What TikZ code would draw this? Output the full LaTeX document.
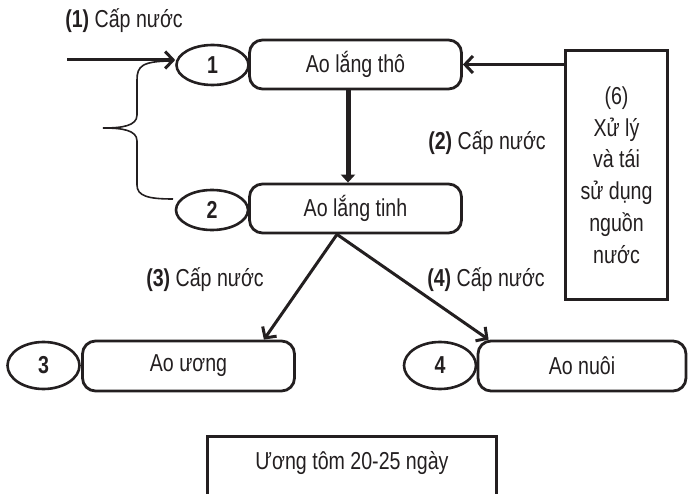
\documentclass[tikz,border=0pt]{standalone}
\usepackage{fontspec}
\setmainfont{Liberation Sans}[FakeStretch=0.8]
\usetikzlibrary{shapes.geometric,arrows.meta}
\definecolor{ink}{HTML}{231F20}
\begin{document}
\begin{tikzpicture}[x=1pt,y=-1pt,
  every node/.style={font=\fontsize{24.5}{31.7}\selectfont, inner sep=0pt, text=ink},
  pond/.style={draw=ink, line width=2.8pt, rounded corners=13pt, minimum height=49pt},
  num/.style={draw=ink, ellipse, line width=2.6pt, minimum width=72pt, minimum height=40pt, font=\fontsize{24.5}{30}\selectfont\bfseries},
  box/.style={draw=ink, line width=3pt},
  barb/.style={draw=ink, line width=3pt, -{Straight Barb[length=8pt,width=17pt]}}]
\useasboundingbox (0,0) rectangle (688,494);
% ponds
\node[pond, minimum width=212pt] (r1) at (355.5,64.5) {Ao lắng thô};
\node[num] (e1) at (212.5,65) {1};
\node[pond, minimum width=212pt] (r2) at (355.5,208.5) {Ao lắng tinh};
\node[num] (e2) at (212,210) {2};
\node[pond, minimum width=212pt, minimum height=50pt] (r3) at (188.5,366) {Ao ương};
\node[num, minimum height=47pt] (e3) at (43.5,365.5) {3};
\node[pond, minimum width=208pt, minimum height=50pt] (r4) at (582,366) {Ao nuôi};
\node[num, minimum height=47pt] (e4) at (440,365.5) {4};
% treatment box
\node[box, minimum width=102pt, minimum height=249pt, align=center] (b6) at (616.5,175) {(6)\\Xử lý\\và tái\\sử dụng\\nguồn\\nước};
% labels
\node (l1) at (124,21) {\textbf{(1)} Cấp nước};
\node (l2) at (487,143) {\textbf{(2)} Cấp nước};
\node (l3) at (205,280) {\textbf{(3)} Cấp nước};
\node (l4) at (486,280) {\textbf{(4)} Cấp nước};
% bottom box
\node[box, minimum width=289pt, minimum height=90pt, anchor=north] (ubx) at (352,435) {};
\node (ub) at (352,463) {Ương tôm 20-25 ngày};
% connectors
\coordinate (in1) at (67,60);
\draw[barb] (in1) -- (in1 -| e1.west);
\draw[barb] (b6.west |- r1.east) -- (r1.east);
\draw[draw=ink, line width=5pt, -{Triangle[length=8pt,width=14pt]}] ([xshift=-7.5pt]r1.south) -- ([xshift=-7.5pt]r2.north);
\coordinate (fork) at ([xshift=-18.5pt]r2.south);
\draw[barb] (fork) -- ([xshift=-32pt]r3.north east);
\draw[barb] (fork) -- ([xshift=12pt]r4.north west);
% brace
\draw[draw=ink, line width=1.6pt] (173,61) .. controls (142,61) and (137,66) .. (137,80) -- (137,115) .. controls (137,126) and (122,128) .. (103,128) .. controls (122,128) and (137,130) .. (137,141) -- (137,185) .. controls (137,196) and (148,199) .. (173,199);
\end{tikzpicture}
\end{document}
